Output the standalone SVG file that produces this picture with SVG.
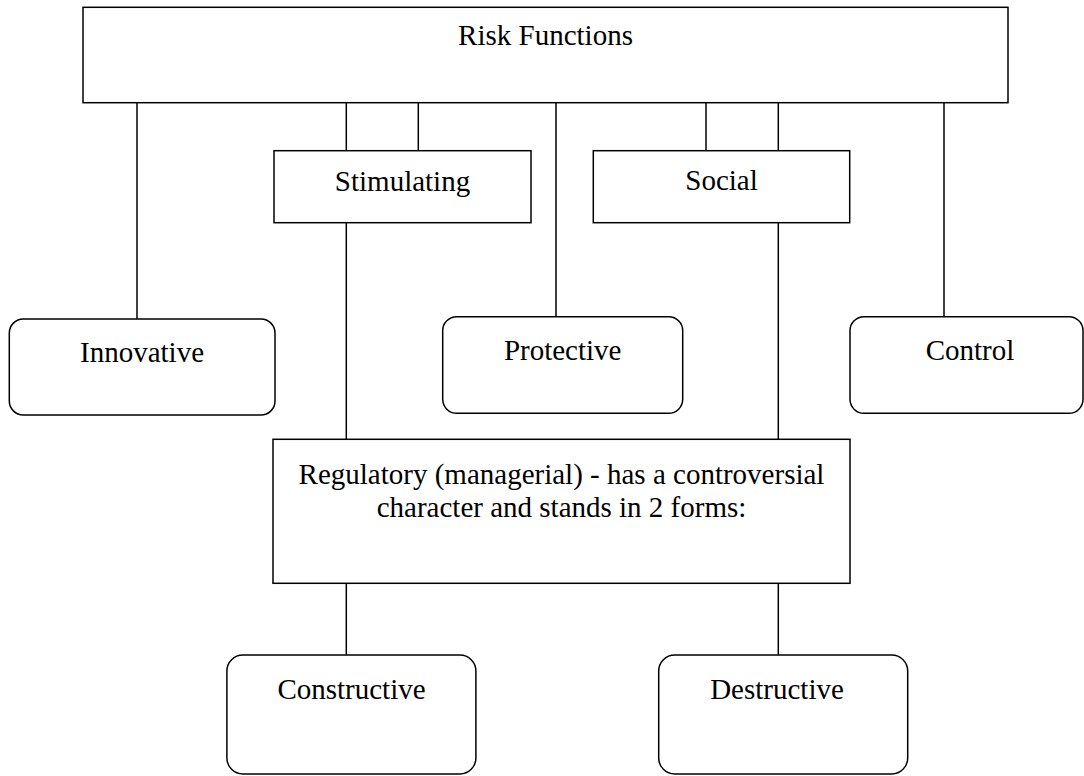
<svg xmlns="http://www.w3.org/2000/svg" width="1084" height="776" viewBox="0 0 1084 776">
  <style>
    .box { fill: #fff; stroke: #000; stroke-width: 1.5; }
    .link { stroke: #000; stroke-width: 1.5; fill: none; }
    .label { font-family: "Liberation Serif", "Times New Roman", serif; font-size: 29px; fill: #000; text-anchor: middle; }
  </style>
  <rect width="1084" height="776" fill="#fff"/>

  <!-- connectors: plain vertical links between the boxes -->
  <g id="connectors">
    <line class="link" x1="137" y1="102.7" x2="137" y2="319"/>
    <line class="link" x1="346.3" y1="102.7" x2="346.3" y2="150.7"/>
    <line class="link" x1="418.3" y1="102.7" x2="418.3" y2="150.7"/>
    <line class="link" x1="556" y1="102.7" x2="556" y2="316.7"/>
    <line class="link" x1="706" y1="102.7" x2="706" y2="150.7"/>
    <line class="link" x1="778.3" y1="102.7" x2="778.3" y2="150.7"/>
    <line class="link" x1="944" y1="102.7" x2="944" y2="316.7"/>
    <line class="link" x1="346.3" y1="222.7" x2="346.3" y2="439.3"/>
    <line class="link" x1="778.3" y1="222.7" x2="778.3" y2="439.3"/>
    <line class="link" x1="346.3" y1="583.3" x2="346.3" y2="655"/>
    <line class="link" x1="778.3" y1="583.3" x2="778.3" y2="655"/>
  </g>

  <g id="risk-functions">
    <rect class="box" x="83" y="7.3" width="925" height="95.4"/>
    <text class="label" x="545.5" y="45">Risk Functions</text>
  </g>

  <g id="stimulating">
    <rect class="box" x="274" y="150.7" width="257" height="72"/>
    <text class="label" x="402.5" y="191">Stimulating</text>
  </g>

  <g id="social">
    <rect class="box" x="593.3" y="150.7" width="256.4" height="72"/>
    <text class="label" x="721.5" y="190">Social</text>
  </g>

  <g id="innovative">
    <rect class="box" x="9.3" y="319" width="265.7" height="96" rx="14" ry="14"/>
    <text class="label" x="142" y="361.5">Innovative</text>
  </g>

  <g id="protective">
    <rect class="box" x="442.7" y="316.7" width="240" height="96.6" rx="14" ry="14"/>
    <text class="label" x="562.7" y="360">Protective</text>
  </g>

  <g id="control">
    <rect class="box" x="850" y="316.7" width="233" height="96.6" rx="14" ry="14"/>
    <text class="label" x="970" y="360">Control</text>
  </g>

  <g id="regulatory">
    <rect class="box" x="273" y="439.3" width="577" height="144"/>
    <text class="label" x="561.5" y="484">Regulatory (managerial) - has a controversial</text>
    <text class="label" x="561.5" y="517">character and stands in 2 forms:</text>
  </g>

  <g id="constructive">
    <rect class="box" x="226.9" y="655" width="249" height="119" rx="16" ry="16"/>
    <text class="label" x="351.5" y="699">Constructive</text>
  </g>

  <g id="destructive">
    <rect class="box" x="658.7" y="655" width="249" height="119" rx="16" ry="16"/>
    <text class="label" x="777" y="699">Destructive</text>
  </g>
</svg>
